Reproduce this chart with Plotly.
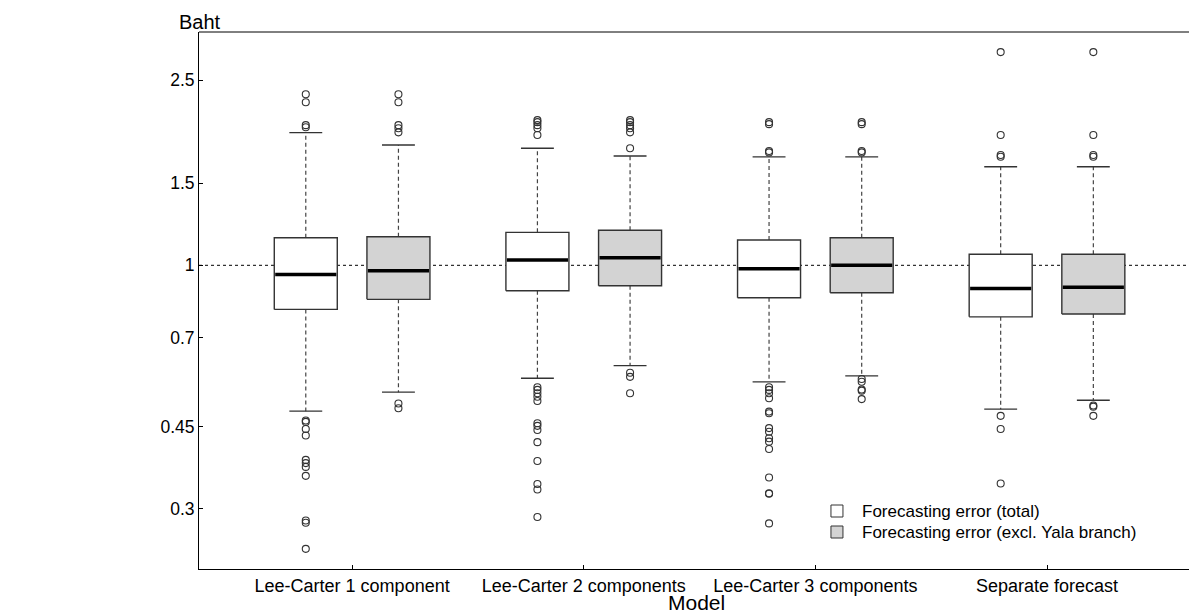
import plotly.graph_objects as go

categories = ["Lee-Carter 1 component", "Lee-Carter 2 components",
              "Lee-Carter 3 components", "Separate forecast"]

# Forecasting error (total)
tot_q1 = [0.804, 0.882, 0.852, 0.775]
tot_med = [0.956, 1.026, 0.983, 0.892]
tot_q3 = [1.146, 1.177, 1.133, 1.056]
tot_lo = [0.486, 0.572, 0.562, 0.491]
tot_hi = [1.927, 1.784, 1.709, 1.628]
tot_out = [
    [2.33, 2.24, 2.00, 1.98, 0.464, 0.461, 0.445, 0.431, 0.382, 0.376, 0.369, 0.353, 0.283, 0.280, 0.246],
    [2.05, 2.03, 2.00, 1.97, 1.905, 0.547, 0.540, 0.531, 0.522, 0.511, 0.458, 0.452, 0.443, 0.417, 0.380, 0.339, 0.330, 0.288],
    [2.03, 2.01, 1.76, 1.748, 0.547, 0.540, 0.531, 0.518, 0.485, 0.481, 0.447, 0.439, 0.425, 0.418, 0.403, 0.350, 0.324, 0.323, 0.279],
    [2.87, 1.905, 1.726, 1.711, 0.475, 0.445, 0.340],
]

# Forecasting error (excl. Yala branch)
exc_q1 = [0.845, 0.904, 0.873, 0.786]
exc_med = [0.974, 1.038, 1.000, 0.897]
exc_q3 = [1.152, 1.189, 1.146, 1.056]
exc_lo = [0.534, 0.609, 0.579, 0.513]
exc_hi = [1.813, 1.717, 1.709, 1.628]
exc_out = [
    [2.33, 2.24, 2.00, 1.97, 1.93, 0.505, 0.493],
    [2.05, 2.03, 2.00, 1.97, 1.93, 1.784, 0.588, 0.576, 0.531],
    [2.03, 2.01, 1.76, 1.748, 0.570, 0.562, 0.541, 0.538, 0.516],
    [2.87, 1.905, 1.726, 1.711, 0.500, 0.497, 0.475],
]

ytick_vals = [0.3, 0.45, 0.7, 1, 1.5, 2.5]
ytick_text = ["0.3", "0.45", "0.7", "1", "1.5", "2.5"]

series = [
    dict(name="Forecasting error (total)", fill="white", off=-0.2,
         q1=tot_q1, med=tot_med, q3=tot_q3, lo=tot_lo, hi=tot_hi, out=tot_out),
    dict(name="Forecasting error (excl. Yala branch)", fill="#d3d3d3", off=0.2,
         q1=exc_q1, med=exc_med, q3=exc_q3, lo=exc_lo, hi=exc_hi, out=exc_out),
]

HW = 0.136   # half box width (category units)
CW = 0.071   # half cap width
EDGE = "#333333"
FONT = "Arial, Liberation Sans, sans-serif"

fig = go.Figure()

# reference line at 1
fig.add_trace(go.Scatter(x=[-0.661, 3.613], y=[1, 1], mode="lines",
                         line=dict(color="black", width=1, dash="dot"),
                         showlegend=False, hoverinfo="skip"))

for s in series:
    wx, wy, cx, cy, bx, by, mx, my, ox, oy = [], [], [], [], [], [], [], [], [], []
    for i in range(len(categories)):
        c = i + s["off"]
        wx += [c, c, None, c, c, None]
        wy += [s["q3"][i], s["hi"][i], None, s["q1"][i], s["lo"][i], None]
        cx += [c - CW, c + CW, None, c - CW, c + CW, None]
        cy += [s["hi"][i], s["hi"][i], None, s["lo"][i], s["lo"][i], None]
        bx += [c - HW, c + HW, c + HW, c - HW, c - HW, None]
        by += [s["q1"][i], s["q1"][i], s["q3"][i], s["q3"][i], s["q1"][i], None]
        mx += [c - HW + 0.004, c + HW - 0.004, None]
        my += [s["med"][i], s["med"][i], None]
        ox += [c] * len(s["out"][i])
        oy += s["out"][i]
    fig.add_trace(go.Scatter(x=wx, y=wy, mode="lines",
                             line=dict(color="#444444", width=1.2, dash="4px,3px"),
                             showlegend=False, hoverinfo="skip"))
    fig.add_trace(go.Scatter(x=cx, y=cy, mode="lines",
                             line=dict(color=EDGE, width=1.3),
                             showlegend=False, hoverinfo="skip"))
    fig.add_trace(go.Scatter(x=bx, y=by, mode="lines", fill="toself",
                             fillcolor=s["fill"], line=dict(color=EDGE, width=1.4),
                             name=s["name"], showlegend=False, hoverinfo="skip"))
    fig.add_trace(go.Scatter(x=mx, y=my, mode="lines",
                             line=dict(color="black", width=3.5),
                             showlegend=False, hoverinfo="skip"))
    fig.add_trace(go.Scatter(x=ox, y=oy, mode="markers",
                             marker=dict(symbol="circle-open", size=7,
                                         color="#333333", line=dict(width=1.1)),
                             showlegend=False))

# manual legend (squares + text) placed in paper coordinates
legend_y = [0.1080, 0.0689]
shapes = [dict(type="line", xref="paper", yref="paper", x0=0, x1=1, y0=1, y1=1,
               line=dict(color="black", width=1))]
annotations = [
    dict(text="Baht", xref="paper", yref="paper", x=0.0015, y=1.0186,
         xanchor="center", yanchor="middle", showarrow=False, font=dict(size=20)),
    dict(text="Model", xref="paper", yref="paper", x=0.503, y=-0.0633,
         xanchor="center", yanchor="middle", showarrow=False, font=dict(size=21)),
]
for s, ly in zip(series, legend_y):
    shapes.append(dict(type="rect", xref="paper", yref="paper",
                       xsizemode="pixel", ysizemode="pixel",
                       xanchor=0.6444, yanchor=ly, x0=-6, x1=6, y0=-6, y1=6,
                       fillcolor=s["fill"], line=dict(color=EDGE, width=1)))
    annotations.append(dict(text=s["name"], xref="paper", yref="paper",
                            x=0.6677, y=ly, xanchor="left", yanchor="middle",
                            showarrow=False, font=dict(size=17)))

fig.update_layout(
    width=1189, height=613,
    margin=dict(l=199, r=0, t=32, b=44),
    paper_bgcolor="white", plot_bgcolor="white",
    font=dict(family=FONT, size=16, color="black"),
    showlegend=False,
    xaxis=dict(range=[-0.661, 3.613], tickvals=list(range(len(categories))),
               ticktext=categories, ticks="inside", ticklen=4, tickcolor="black",
               showline=True, linecolor="black", linewidth=1, showgrid=False,
               zeroline=False, tickfont=dict(size=18)),
    yaxis=dict(type="log", range=[-0.6523, 0.5011], tickvals=ytick_vals,
               ticktext=ytick_text, ticks="inside", ticklen=4, tickcolor="black",
               showline=True, linecolor="black", linewidth=1, showgrid=False,
               zeroline=False, tickfont=dict(size=17.5)),
    shapes=shapes,
    annotations=annotations,
)

fig.write_html("out.html")
